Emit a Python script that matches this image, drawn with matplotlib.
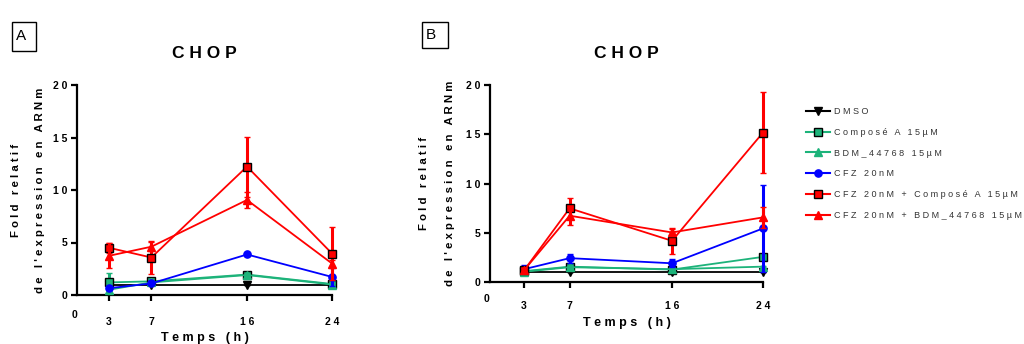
import matplotlib
matplotlib.use("Agg")
import matplotlib.pyplot as plt
from matplotlib.lines import Line2D

plt.rcParams['font.family'] = ['Liberation Sans', 'DejaVu Sans']

times = [3, 7, 16, 24]
series_labels = ["DMSO", "Composé A 15µM", "BDM_44768 15µM", "CFZ 20nM",
                 "CFZ 20nM + Composé A 15µM", "CFZ 20nM + BDM_44768 15µM"]

# Panel A values
a_dmso = [1.0, 1.0, 1.0, 1.0]
a_compA = [1.2, 1.3, 1.95, 1.05]
a_bdm = [0.5, 1.2, 1.9, 1.0]
a_cfz = [0.65, 1.1, 3.86, 1.72]
a_cfz_A = [4.5, 3.57, 12.23, 3.95]
a_cfz_bdm = [3.73, 4.6, 9.05, 3.0]
a_dmso_err = [0.0, 0.0, 0.0, 0.0]
a_compA_err = [0.9, 0.2, 0.15, 0.1]
a_bdm_err = [0.2, 0.1, 0.1, 0.1]
a_cfz_err = [0.1, 0.1, 0.1, 0.85]
a_cfz_A_err = [0.5, 1.6, 2.85, 2.5]
a_cfz_bdm_err = [1.2, 0.45, 0.75, 0.3]

# Panel B values
b_dmso = [1.0, 1.0, 1.0, 1.0]
b_compA = [1.1, 1.56, 1.26, 2.55]
b_bdm = [1.05, 1.5, 1.3, 1.56]
b_cfz = [1.3, 2.42, 1.9, 5.44]
b_cfz_A = [1.19, 7.48, 4.18, 15.17]
b_cfz_bdm = [1.2, 6.73, 5.03, 6.56]
b_dmso_err = [0.0, 0.0, 0.0, 0.0]
b_compA_err = [0.1, 0.15, 0.1, 0.2]
b_bdm_err = [0.1, 0.1, 0.1, 0.1]
b_cfz_err = [0.4, 0.45, 0.4, 4.4]
b_cfz_A_err = [0.3, 1.0, 1.35, 4.1]
b_cfz_bdm_err = [0.2, 0.9, 0.4, 1.1]

green = '#1db37a'
styles = [
    dict(color='black', marker='v', mfc='black', mec='black'),
    dict(color=green, marker='s', mfc=green, mec='black'),
    dict(color=green, marker='^', mfc=green, mec=green),
    dict(color='#0000ff', marker='o', mfc='#0000ff', mec='#0000ff'),
    dict(color='#ff0000', marker='s', mfc='#ff0000', mec='black'),
    dict(color='#ff0000', marker='^', mfc='#ff0000', mec='#ff0000'),
]


def sp(s):
    return " ".join(s)


fig = plt.figure(figsize=(10.24, 3.44), dpi=100)
W, H = 1024, 344


def make_axes(x0, x1, y0, y1):
    return fig.add_axes([x0 / W, 1 - y0 / H, (x1 - x0) / W, (y0 - y1) / H])


def draw_panel(ax, data, errs, zero_off, tick_pad, title_y, xlabel_y, letter, box, ylab_x):
    order = [0, 1, 2, 3, 5, 4]
    for i in order:
        st = styles[i]
        ax.errorbar(times, data[i], yerr=errs[i], color=st['color'], lw=1.3,
                    marker=st['marker'], ms=5.2, mfc=st['mfc'], mec=st['mec'], mew=1.0,
                    elinewidth=2.2, capsize=2.5, capthick=2.2, clip_on=False,
                    zorder=3 + i)
    ax.set_xlim(0, 24)
    ax.set_ylim(0, 20)
    for s in ['top', 'right']:
        ax.spines[s].set_visible(False)
    for s in ['left', 'bottom']:
        ax.spines[s].set_linewidth(1.6)
    ax.set_xticks(times)
    ax.set_xticklabels([sp(str(t)) for t in times], fontsize=7.5, fontweight='bold')
    ax.set_yticks([0, 5, 10, 15, 20])
    ax.set_yticklabels([sp(str(v)) for v in [0, 5, 10, 15, 20]], fontsize=7.5, fontweight='bold')
    ax.tick_params(axis='x', length=4, width=1.6, pad=tick_pad)
    ax.tick_params(axis='y', length=4, width=1.6, pad=3)
    ax.annotate("0", xy=(0, 0), xycoords='data', xytext=(-3, -zero_off),
                textcoords='offset pixels', ha='center', va='center',
                fontsize=7.5, fontweight='bold', annotation_clip=False)
    pos = ax.get_position()
    cx = pos.x0 + pos.width / 2
    fig.text(cx, 1 - title_y / H, sp("CHOP"), ha='center', va='center',
             fontsize=12.5, fontweight='bold')
    fig.text(cx, 1 - xlabel_y / H, sp("Temps") + "   " + sp("(h)"), ha='center', va='center',
             fontsize=9, fontweight='bold')
    ymid = pos.y0 + pos.height / 2
    fig.text(ylab_x[0] / W, ymid, sp("Fold") + "   " + sp("relatif"), rotation=90,
             ha='center', va='center', fontsize=8.2, fontweight='bold')
    fig.text(ylab_x[1] / W, ymid,
             sp("de") + "   " + sp("l'expression") + "   " + sp("en") + "   " + sp("ARNm"),
             rotation=90, ha='center', va='center', fontsize=8.2, fontweight='bold')
    bx0, by0, bx1, by1 = box
    fig.patches.append(plt.Rectangle((bx0 / W, 1 - by1 / H), (bx1 - bx0) / W, (by1 - by0) / H,
                                     transform=fig.transFigure, fill=False,
                                     edgecolor='black', lw=1.0))
    fig.text((bx0 + 4) / W, 1 - (by0 + by1) / 2 / H, letter, ha='left', va='center',
             fontsize=11)


axA = make_axes(77, 332, 295, 85)
draw_panel(axA,
           [a_dmso, a_compA, a_bdm, a_cfz, a_cfz_A, a_cfz_bdm],
           [a_dmso_err, a_compA_err, a_bdm_err, a_cfz_err, a_cfz_A_err, a_cfz_bdm_err],
           zero_off=20, tick_pad=12, title_y=53, xlabel_y=338, letter="A",
           box=(12, 22, 36, 51), ylab_x=(16, 40))

axB = make_axes(490, 763, 282, 85)
draw_panel(axB,
           [b_dmso, b_compA, b_bdm, b_cfz, b_cfz_A, b_cfz_bdm],
           [b_dmso_err, b_compA_err, b_bdm_err, b_cfz_err, b_cfz_A_err, b_cfz_bdm_err],
           zero_off=17, tick_pad=10, title_y=53, xlabel_y=323, letter="B",
           box=(422, 22, 448, 48), ylab_x=(424, 450))

handles = []
for st in styles:
    handles.append(Line2D([0], [0], color=st['color'], lw=1.5, marker=st['marker'], ms=5.2,
                          mfc=st['mfc'], mec=st['mec'], mew=1.0))
leg = fig.legend(handles, [sp(l) for l in series_labels], loc='upper left',
                 bbox_to_anchor=(798 / W, 1 - 99 / H), frameon=False,
                 fontsize=6.5, labelspacing=1.3, handlelength=2.6, handletextpad=0.5)
for t in leg.get_texts():
    t.set_color('#333333')

fig.savefig("out.png", dpi=100)
